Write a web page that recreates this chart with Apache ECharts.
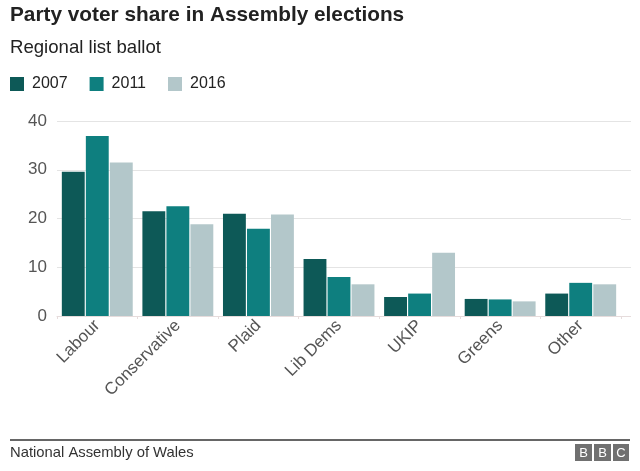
<!DOCTYPE html>
<html><head><meta charset="utf-8">
<script src="https://cdn.jsdelivr.net/npm/echarts@6/dist/echarts.min.js"></script>
<style>html,body{margin:0;padding:0;background:#fff}#c{width:640px;height:471px}</style>
</head><body><div id="c"></div>
<script>
var categories = ["Labour","Conservative","Plaid","Lib Dems","UKIP","Greens","Other"];
var v2007 = [29.6, 21.5, 21.0, 11.7, 3.9, 3.5, 4.6];
var v2011 = [36.9, 22.5, 17.9, 8.0, 4.6, 3.4, 6.8];
var v2016 = [31.5, 18.8, 20.8, 6.5, 13.0, 3.0, 6.5];
var yTicks = [0, 10, 20, 30, 40];
var colors = ["#0d5957", "#0e7f7f", "#b3c7ca"];
var font = "Liberation Sans, Arial, Helvetica, sans-serif";
var chart = echarts.init(document.getElementById('c'));
function s(name, data, i){
  return {name:name, type:'bar', data:data, barGap:'5%', barCategoryGap:'12%',
    itemStyle:{color:colors[i]}, animation:false};
}
var gridRight = 19;
var baseGraphic = [
  {type:'line', shape:{x1:10, y1:440, x2:630, y2:440}, style:{stroke:'#333', lineWidth:1.5}},
  {type:'rect', shape:{x:575, y:444, width:17, height:17}, style:{fill:'#707070'}},
  {type:'rect', shape:{x:594, y:444, width:17, height:17}, style:{fill:'#707070'}},
  {type:'rect', shape:{x:613, y:444, width:16, height:17}, style:{fill:'#707070'}},
  {type:'text', style:{x:583.5, y:453, text:'B', fill:'#fff', font:'13px '+font, align:'center', verticalAlign:'middle'}},
  {type:'text', style:{x:602.5, y:453, text:'B', fill:'#fff', font:'13px '+font, align:'center', verticalAlign:'middle'}},
  {type:'text', style:{x:621, y:453, text:'C', fill:'#fff', font:'13px '+font, align:'center', verticalAlign:'middle'}}
];
var option = {
  animation:false,
  title:[
    {text:"Party voter share in Assembly elections", left:10, top:5, padding:0,
     textStyle:{fontFamily:font, fontSize:20.8, fontWeight:'bold', color:'#222'}},
    {text:"Regional list ballot", left:10, top:38, padding:0,
     textStyle:{fontFamily:font, fontSize:18.6, fontWeight:'normal', color:'#222'}},
    {text:"National Assembly of Wales", left:10, top:445, padding:0,
     textStyle:{fontFamily:font, fontSize:14.8, fontWeight:'normal', color:'#333'}}
  ],
  legend:{left:10, top:76, padding:0, itemWidth:14, itemHeight:14, itemGap:22, icon:'rect',
    textStyle:{fontFamily:font, fontSize:16, color:'#222', padding:[0,0,0,3]},
    data:["2007","2011","2016"]},
  grid:{left:57, right:gridRight, top:121, bottom:155, containLabel:false},
  xAxis:{type:'category', data:categories,
    axisLine:{show:true, lineStyle:{color:'#e6dcdc'}},
    axisTick:{show:true, length:3, lineStyle:{color:'#e6dcdc'}},
    axisLabel:{rotate:45, interval:0, fontFamily:font, fontSize:17, color:'#555', margin:7}},
  yAxis:{type:'value', min:yTicks[0], max:yTicks[yTicks.length-1], interval:10,
    axisLine:{show:false}, axisTick:{show:false},
    axisLabel:{fontFamily:font, fontSize:17, color:'#555', margin:10},
    splitLine:{lineStyle:{color:'#e4e4e4'}}},
  series:[s("2007", v2007, 0), s("2011", v2011, 1), s("2016", v2016, 2)],
  graphic: baseGraphic
};
chart.setOption(option);
// extend gridlines slightly past the plot, as in the reference
var extra = [];
yTicks.forEach(function(t){
  var y = Math.round(chart.convertToPixel({yAxisIndex:0}, t)) + 0.5;
  extra.push({type:'line', shape:{x1:640-gridRight, y1:y, x2:631, y2:y},
    style:{stroke: t===0 ? '#e6dcdc' : '#e4e4e4', lineWidth:1}});
});
option.graphic = baseGraphic.concat(extra);
chart.setOption(option, true);
</script></body></html>
